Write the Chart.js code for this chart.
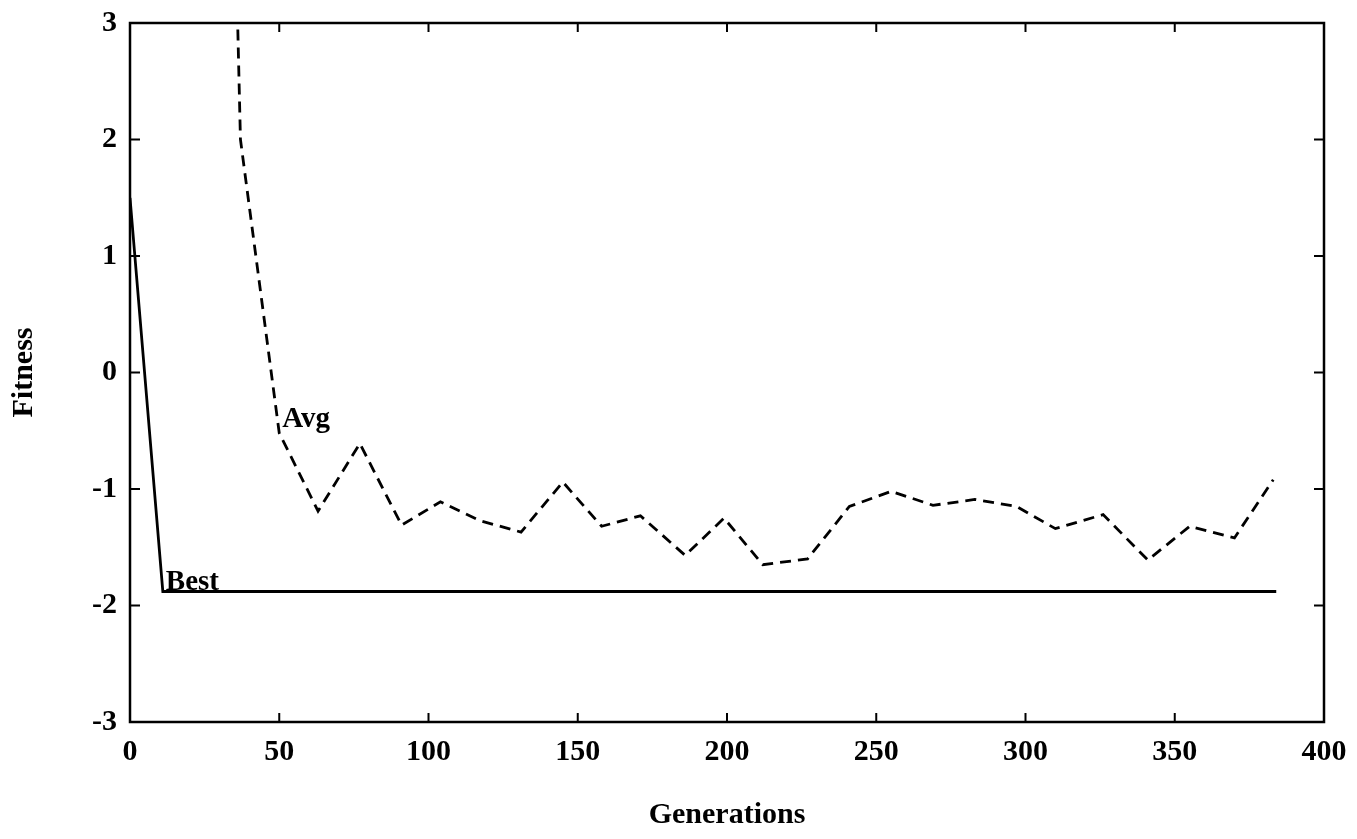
<!DOCTYPE html>
<html>
<head>
<meta charset="utf-8">
<script src="https://cdn.jsdelivr.net/npm/chart.js@4.4.1/dist/chart.umd.min.js"></script>
<style>
html, body { margin: 0; padding: 0; background: #fff; }
</style>
</head>
<body>
<canvas id="fitnessChart" width="1357" height="839"></canvas>
<script>
// values
const bestGens = [0, 11, 384];
const bestFitness = [1.5, -1.88, -1.88];

const avgGens = [23, 37, 50, 63, 77, 91, 104, 117, 131, 145, 158, 171, 186, 199, 212, 227, 241, 255, 269, 283, 297, 310, 326, 341, 355, 370, 383];
const avgFitness = [17, 2.0, -0.52, -1.19, -0.61, -1.31, -1.11, -1.27, -1.37, -0.94, -1.32, -1.23, -1.57, -1.25, -1.65, -1.60, -1.15, -1.02, -1.14, -1.09, -1.15, -1.34, -1.22, -1.61, -1.32, -1.42, -0.92];

const xTicks = [0, 50, 100, 150, 200, 250, 300, 350, 400];
const yTicks = [-3, -2, -1, 0, 1, 2, 3];

// in-plot series names, anchored at data coords
const noteText = ["Avg", "Best"];
const noteGen = [51, 12];
const noteVal = [-0.47, -1.87];

const serif = '"Liberation Serif", "Times New Roman", serif';

function toPoints(xs, ys) {
    return xs.map((v, i) => ({ x: v, y: ys[i] }));
}

// box round the plot, inward tick marks, and the "Avg"/"Best" labels
const framePlugin = {
    id: 'frame',
    afterDatasetsDraw(chart) {
        const { ctx, chartArea: a, scales: { x, y } } = chart;
        ctx.save();
        ctx.strokeStyle = '#000';
        ctx.lineWidth = 2.5;
        ctx.strokeRect(a.left, a.top, a.right - a.left, a.bottom - a.top);

        ctx.lineWidth = 2;
        ctx.beginPath();
        xTicks.slice(1, -1).forEach(v => {
            const px = x.getPixelForValue(v);
            ctx.moveTo(px, a.bottom); ctx.lineTo(px, a.bottom - 9);
            ctx.moveTo(px, a.top); ctx.lineTo(px, a.top + 9);
        });
        yTicks.slice(1, -1).forEach(v => {
            const py = y.getPixelForValue(v);
            ctx.moveTo(a.left, py); ctx.lineTo(a.left + 10, py);
            ctx.moveTo(a.right, py); ctx.lineTo(a.right - 10, py);
        });
        ctx.stroke();

        ctx.fillStyle = '#000';
        ctx.font = 'bold 29px ' + serif;
        ctx.textAlign = 'left';
        ctx.textBaseline = 'alphabetic';
        noteText.forEach((t, i) => {
            ctx.fillText(t, x.getPixelForValue(noteGen[i]), y.getPixelForValue(noteVal[i]));
        });
        ctx.restore();
    }
};

const fitnessData = {
    datasets: [
        {
            label: 'Best',
            data: toPoints(bestGens, bestFitness),
            borderColor: '#000',
            borderWidth: 2.8,
            pointRadius: 0,
            tension: 0
        },
        {
            label: 'Avg',
            data: toPoints(avgGens, avgFitness),
            borderColor: '#000',
            borderWidth: 2.8,
            borderDash: [11, 7],
            pointRadius: 0,
            tension: 0
        }
    ]
};

const fitnessConfig = {
    type: 'line',
    data: fitnessData,
    options: {
        responsive: false,
        animation: false,
        layout: { padding: { top: 23, right: 33, left: 0, bottom: 0 } },
        plugins: {
            legend: { display: false },
            tooltip: { enabled: false }
        },
        scales: {
            x: {
                type: 'linear',
                min: 0,
                max: 400,
                afterBuildTicks: (scale) => { scale.ticks = xTicks.map(v => ({ value: v })); },
                afterFit: (scale) => { scale.height = 117; },
                grid: { display: false },
                border: { display: false },
                ticks: {
                    color: '#000',
                    padding: 4,
                    maxRotation: 0,
                    font: { family: serif, size: 30, weight: 'bold' }
                },
                title: {
                    display: true,
                    text: 'Generations',
                    color: '#000',
                    padding: { top: 0, bottom: 6 },
                    font: { family: serif, size: 30, weight: 'bold' }
                }
            },
            y: {
                type: 'linear',
                min: -3,
                max: 3,
                afterBuildTicks: (scale) => { scale.ticks = yTicks.map(v => ({ value: v })); },
                afterFit: (scale) => { scale.width = 130; },
                grid: { display: false },
                border: { display: false },
                ticks: {
                    color: '#000',
                    padding: 5,
                    font: { family: serif, size: 30, weight: 'bold' }
                },
                title: {
                    display: true,
                    text: 'Fitness',
                    color: '#000',
                    padding: { top: 6, bottom: 0 },
                    font: { family: serif, size: 30, weight: 'bold' }
                }
            }
        }
    },
    plugins: [framePlugin]
};

let fitnessChart = new Chart(document.getElementById('fitnessChart'), fitnessConfig);
</script>
</body>
</html>
